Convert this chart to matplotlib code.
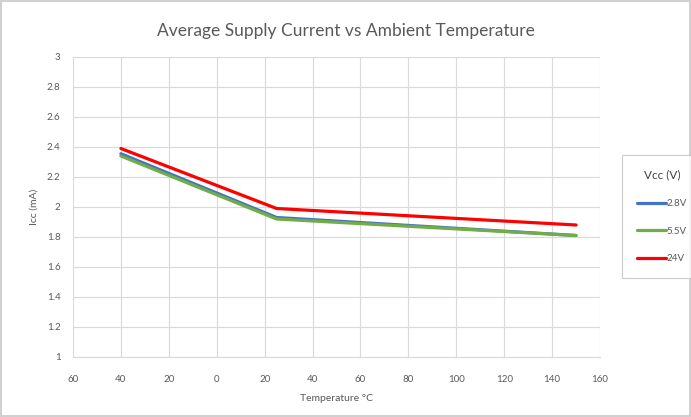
import matplotlib
matplotlib.use("Agg")
import matplotlib.pyplot as plt

# data
temps = [-40, 25, 150]
icc_2v8 = [2.355, 1.93, 1.81]
icc_5v5 = [2.34, 1.92, 1.81]
icc_24v = [2.39, 1.99, 1.88]

x_ticks = [-60, -40, -20, 0, 20, 40, 60, 80, 100, 120, 140, 160]
x_tick_labels = ["60", "40", "20", "0", "20", "40", "60", "80", "100", "120", "140", "160"]
y_ticks = [1, 1.2, 1.4, 1.6, 1.8, 2, 2.2, 2.4, 2.6, 2.8, 3]
y_tick_labels = ["1", "1.2", "1.4", "1.6", "1.8", "2", "2.2", "2.4", "2.6", "2.8", "3"]

plt.rcParams['font.family'] = ['Lato', 'DejaVu Sans']
txt = '#595959'
grid_c = '#d9d9d9'

fig = plt.figure(figsize=(6.91, 4.17), dpi=100)
fig.patch.set_edgecolor('#d0d0d0')
fig.patch.set_linewidth(1.5)
ax = fig.add_axes([73 / 691, 1 - 357 / 417, 527 / 691, 300 / 417])

ax.plot(temps, icc_2v8, color='#4472C4', lw=2.3, label='2.8V', solid_capstyle='round')
ax.plot(temps, icc_5v5, color='#70AD47', lw=2.3, label='5.5V', solid_capstyle='round')
ax.plot(temps, icc_24v, color='#FF0000', lw=2.3, label='24V', solid_capstyle='round')

ax.set_xlim(-60, 160)
ax.set_ylim(1, 3)
ax.set_xticks(x_ticks)
ax.set_xticklabels(x_tick_labels)
ax.set_yticks(y_ticks)
ax.set_yticklabels(y_tick_labels)
ax.tick_params(length=0, labelsize=7, colors=txt)
ax.tick_params(axis='x', pad=13)
ax.tick_params(axis='y', pad=9)
ax.grid(True, color=grid_c, lw=0.8)
ax.set_axisbelow(True)
for s in ['top', 'right', 'left']:
    ax.spines[s].set_visible(False)
ax.spines['bottom'].set_color(grid_c)

ax.set_xlabel('Temperature °C', fontsize=7.5, color=txt, labelpad=7)
ax.set_ylabel('Icc (mA)', fontsize=7.5, color=txt, labelpad=6)
fig.suptitle('Average Supply Current vs Ambient Temperature', fontsize=12.5, color=txt, y=0.945)

leg = fig.legend(loc='upper left', bbox_to_anchor=(622 / 691, 1 - 155 / 417),
                 title='Vcc (V)', fontsize=7, title_fontsize=8.5, frameon=True,
                 fancybox=False, handlelength=3.0, handletextpad=0.1,
                 borderpad=1.5, labelspacing=1.9, borderaxespad=0)
leg.get_frame().set_edgecolor('#bfbfbf')
leg.get_frame().set_linewidth(0.8)
leg.get_title().set_color('#404040')
for t in leg.get_texts():
    t.set_color(txt)

fig.savefig('out.png', dpi=100)
